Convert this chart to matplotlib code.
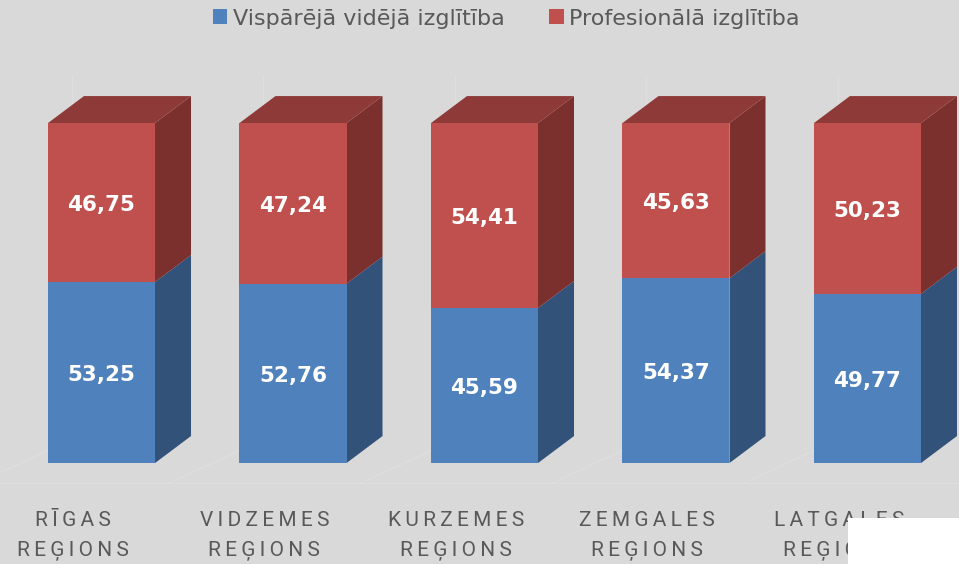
import matplotlib.pyplot as plt
from matplotlib.patches import Polygon, Patch, Rectangle

regions = ['RĪGAS\nREĢIONS', 'VIDZEMES\nREĢIONS', 'KURZEMES\nREĢIONS',
           'ZEMGALES\nREĢIONS', 'LATGALES\nREĢIONS']
visparejo = [53.25, 52.76, 45.59, 54.37, 49.77]
profesion = [46.75, 47.24, 54.41, 45.63, 50.23]
series_names = ['Vispārējā vidējā izglītība', 'Profesionālā izglītība']

BG = '#d9d9d9'
TXT = '#595959'
front_cols = ['#4f81bd', '#c0504d']
side_cols = ['#325279', '#7b302e']
top_cols = ['#3e6796', '#8e3a38']

W = 0.559      # front face width (category units)
DX = 0.188     # depth offset in x
DY = 7.94      # depth offset in y (percent units)

fig = plt.figure(figsize=(9.59, 5.64), dpi=100)
fig.patch.set_facecolor(BG)
ax = fig.add_axes([0, 0, 1, 1])
ax.set_xlim(-0.530, 4.478)
ax.set_ylim(-29.7, 136.2)
ax.axis('off')

# faint back wall / floor lines
for i in range(len(regions)):
    ax.plot([i - 0.154, i - 0.154], [DY - 1, 114], color='#dedede', lw=1, zorder=0)
    ax.plot([i - 0.65, i - 0.154], [-6, DY - 1], color='#dedede', lw=1, zorder=0)
ax.plot([-0.53, 4.478], [-6, -6], color='#dedede', lw=1, zorder=0)

for i in range(len(regions)):
    x0 = i - W / 2
    x1 = i + W / 2
    bottom = 0
    vals = [visparejo[i], profesion[i]]
    for k, v in enumerate(vals):
        top = bottom + v
        ax.bar(i, v, width=W, bottom=bottom, color=front_cols[k], zorder=3)
        side = Polygon([(x1, bottom), (x1 + DX, bottom + DY), (x1 + DX, top + DY), (x1, top)],
                       closed=True, facecolor=side_cols[k], edgecolor='none', zorder=2)
        ax.add_patch(side)
        ax.text(i, bottom + v / 2 - 0.8, f'{v:.2f}'.replace('.', ','), ha='center', va='center',
                color='white', fontsize=15.5, fontweight='bold', zorder=5)
        bottom = top
    topface = Polygon([(x0, bottom), (x0 + DX, bottom + DY), (x1 + DX, bottom + DY), (x1, bottom)],
                      closed=True, facecolor=top_cols[1], edgecolor='none', zorder=2)
    ax.add_patch(topface)

    l1, l2 = regions[i].split('\n')
    ax.text(i - 0.15, -16.8, '\u2009'.join(l1), ha='center', va='center', color=TXT,
            fontsize=15, family=['Roboto', 'DejaVu Sans'])
    ax.text(i - 0.15, -25.8, '\u2009'.join(l2), ha='center', va='center', color=TXT,
            fontsize=15, family=['Roboto', 'DejaVu Sans'])

handles = [Patch(facecolor=front_cols[0]), Patch(facecolor=front_cols[1])]
leg = fig.legend(handles, series_names, loc='upper center', bbox_to_anchor=(0.528, 1.02),
                 ncol=2, frameon=False, handlelength=0.65, handleheight=0.65,
                 handletextpad=0.25, columnspacing=2.0,
                 prop={'family': 'DejaVu Sans', 'size': 16})
for t in leg.get_texts():
    t.set_color(TXT)

# white patch covering the lower right corner
fig.patches.append(Rectangle((848 / 959, 0), 1 - 848 / 959, 46 / 564, transform=fig.transFigure,
                             facecolor='white', edgecolor='none', zorder=10))

fig.savefig('out.png', dpi=100, facecolor=BG)
